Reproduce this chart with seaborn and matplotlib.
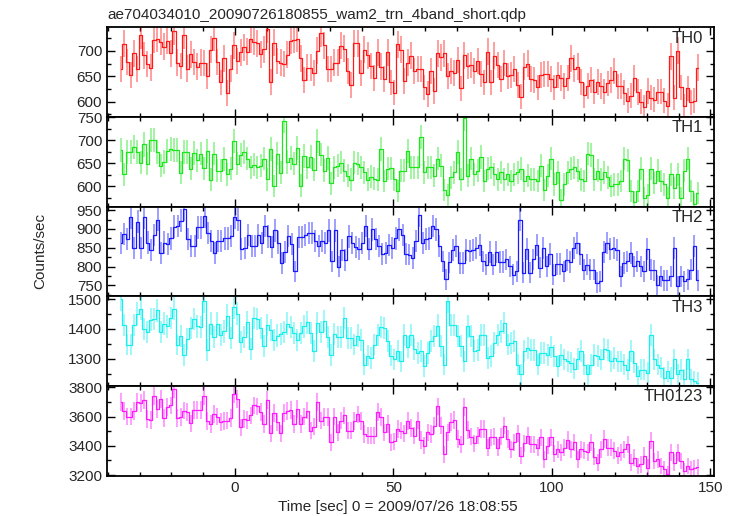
import numpy as np
import matplotlib
matplotlib.use("Agg")
import matplotlib.pyplot as plt
import seaborn as sns
from matplotlib.ticker import MultipleLocator

sns.set_style("ticks")
plt.rcParams['font.family'] = ['Liberation Sans', 'DejaVu Sans']

# light curve, 1 s bins, counts/sec
t_first, t_last = -36.5, 146.5

bands = ["TH0", "TH1", "TH2", "TH3", "TH0123"]

th0 = [664, 714, 678, 652, 695, 664, 731, 691, 674, 667,
       722, 724, 718, 708, 720, 695, 739, 677, 670, 731,
       665, 693, 678, 669, 677, 676, 651, 702, 726, 678,
       638, 685, 617, 665, 711, 680, 697, 707, 698, 723,
       718, 715, 693, 703, 742, 639, 716, 680, 677, 674,
       692, 720, 722, 724, 685, 643, 667, 667, 656, 700,
       735, 711, 664, 664, 677, 677, 710, 704, 661, 633,
       715, 715, 656, 702, 691, 670, 646, 697, 669, 644,
       697, 638, 618, 713, 702, 641, 677, 690, 661, 664,
       664, 628, 615, 660, 621, 695, 687, 695, 651, 661,
       657, 682, 626, 691, 670, 672, 661, 680, 655, 638,
       698, 638, 690, 672, 644, 676, 651, 652, 664, 633,
       610, 669, 675, 644, 643, 628, 652, 654, 654, 644,
       628, 652, 647, 631, 646, 685, 665, 669, 639, 613,
       631, 643, 620, 639, 631, 620, 636, 642, 660, 630,
       631, 618, 602, 612, 646, 619, 600, 589, 621, 608,
       604, 620, 620, 602, 592, 689, 608, 700, 628, 591,
       626, 599, 602, 667]

th1 = [679, 626, 675, 675, 686, 675, 651, 691, 649, 701,
       701, 675, 645, 653, 677, 681, 679, 679, 629, 675,
       674, 638, 673, 656, 671, 639, 677, 614, 671, 634,
       634, 659, 626, 638, 698, 649, 668, 675, 660, 641,
       647, 641, 645, 660, 615, 681, 600, 671, 629, 743,
       653, 662, 649, 684, 601, 666, 641, 664, 636, 699,
       669, 634, 662, 606, 641, 645, 651, 634, 623, 614,
       651, 649, 641, 630, 614, 621, 616, 614, 681, 611,
       638, 639, 615, 589, 634, 634, 677, 641, 641, 641,
       707, 630, 641, 641, 623, 660, 645, 592, 581, 619,
       630, 675, 615, 748, 623, 660, 626, 634, 664, 611,
       638, 641, 626, 615, 630, 615, 626, 611, 626, 630,
       638, 611, 623, 615, 615, 611, 645, 592, 623, 660,
       604, 630, 570, 604, 630, 638, 641, 634, 615, 611,
       671, 668, 615, 634, 615, 630, 619, 600, 604, 604,
       611, 660, 656, 589, 566, 589, 638, 574, 581, 638,
       607, 634, 611, 604, 574, 626, 596, 626, 574, 634,
       660, 589, 562, 585]

th2 = [862, 886, 873, 931, 849, 919, 849, 931, 864, 845,
       884, 925, 836, 864, 861, 875, 906, 908, 922, 952,
       873, 854, 855, 904, 904, 934, 889, 867, 836, 869,
       869, 875, 875, 882, 931, 925, 847, 849, 884, 854,
       854, 884, 862, 908, 880, 852, 896, 864, 810, 838,
       882, 861, 788, 878, 878, 884, 889, 889, 869, 854,
       867, 862, 896, 814, 896, 800, 843, 817, 880, 862,
       852, 847, 862, 908, 847, 899, 873, 855, 834, 836,
       858, 849, 875, 899, 884, 834, 832, 823, 867, 937,
       862, 873, 875, 908, 899, 854, 814, 766, 811, 845,
       854, 810, 810, 843, 841, 845, 849, 858, 814, 805,
       838, 805, 838, 812, 812, 819, 801, 779, 788, 924,
       784, 847, 784, 819, 858, 797, 849, 801, 834, 779,
       807, 807, 788, 817, 812, 849, 862, 834, 792, 805,
       792, 792, 757, 761, 838, 862, 847, 849, 845, 775,
       810, 814, 836, 801, 814, 801, 788, 847, 792, 790,
       750, 775, 764, 764, 775, 849, 749, 775, 761, 766,
       792, 854, 764]

th3 = [1500, 1414, 1348, 1348, 1414, 1451, 1467, 1400, 1389, 1431,
       1433, 1462, 1389, 1418, 1409, 1437, 1467, 1348, 1376, 1314,
       1367, 1403, 1433, 1409, 1407, 1492, 1331, 1418, 1373, 1418,
       1381, 1392, 1444, 1370, 1473, 1451, 1356, 1373, 1422, 1333,
       1437, 1433, 1403, 1344, 1414, 1396, 1364, 1378, 1384, 1389,
       1418, 1407, 1387, 1364, 1387, 1409, 1422, 1387, 1326, 1420,
       1389, 1426, 1373, 1314, 1384, 1373, 1373, 1437, 1370, 1370,
       1348, 1378, 1364, 1281, 1311, 1303, 1348, 1381, 1407, 1403,
       1359, 1311, 1298, 1326, 1292, 1381, 1340, 1381, 1333, 1320,
       1326, 1276, 1320, 1359, 1376, 1411, 1342, 1281, 1492, 1414,
       1414, 1376, 1342, 1292, 1409, 1376, 1326, 1331, 1381, 1381,
       1303, 1309, 1353, 1381, 1392, 1420, 1348, 1353, 1359, 1281,
       1248, 1326, 1337, 1331, 1331, 1281, 1320, 1320, 1314, 1340,
       1309, 1276, 1314, 1298, 1292, 1287, 1267, 1300, 1326, 1281,
       1248, 1281, 1314, 1309, 1298, 1333, 1331, 1292, 1303, 1292,
       1292, 1281, 1264, 1326, 1287, 1242, 1264, 1264, 1253, 1381,
       1298, 1281, 1270, 1237, 1259, 1237, 1298, 1248, 1264, 1231,
       1298, 1231, 1226, 1220]

th0123 = [3699, 3637, 3600, 3600, 3637, 3699, 3692, 3710, 3584, 3577,
          3738, 3653, 3722, 3591, 3664, 3676, 3791, 3591, 3595, 3641,
          3630, 3554, 3646, 3646, 3646, 3738, 3568, 3549, 3618, 3600,
          3561, 3568, 3572, 3591, 3756, 3722, 3526, 3584, 3577, 3607,
          3676, 3669, 3630, 3549, 3710, 3485, 3623, 3561, 3485, 3623,
          3637, 3646, 3549, 3653, 3549, 3600, 3641, 3503, 3531, 3699,
          3572, 3595, 3595, 3423, 3600, 3492, 3572, 3607, 3503, 3503,
          3568, 3614, 3568, 3480, 3469, 3469, 3469, 3630, 3595, 3492,
          3549, 3423, 3430, 3515, 3503, 3485, 3568, 3522, 3469, 3572,
          3439, 3400, 3492, 3480, 3538, 3669, 3538, 3342, 3492, 3561,
          3577, 3446, 3411, 3664, 3508, 3462, 3416, 3469, 3515, 3515,
          3388, 3457, 3462, 3388, 3462, 3538, 3446, 3377, 3423, 3485,
          3331, 3416, 3469, 3411, 3411, 3388, 3457, 3308, 3400, 3457,
          3347, 3377, 3354, 3388, 3439, 3377, 3423, 3308, 3377, 3365,
          3354, 3423, 3324, 3285, 3377, 3446, 3388, 3388, 3365, 3331,
          3354, 3377, 3411, 3285, 3319, 3262, 3273, 3331, 3250, 3434,
          3296, 3308, 3262, 3239, 3204, 3354, 3285, 3354, 3296, 3227,
          3262, 3239, 3246, 3255]

series = [th0, th1, th2, th3, th0123]

colors = ["#ff1a1a", "#1ee61e", "#1a1aff", "#1aeeee", "#ff1aff"]
ylims = [(570, 746), (555, 751), (721, 959), (1209, 1509), (3195, 3808)]
ysteps = [(50, 25), (50, 25), (50, 25), (100, 50), (200, 100)]

fig, axes = plt.subplots(5, 1, sharex=True, figsize=(7.33, 5.16), dpi=100)
fig.subplots_adjust(left=0.146, right=0.974, top=0.947, bottom=0.078, hspace=0)

for ax, name, vals, c, yl, (maj, mnr) in zip(axes, bands, series, colors, ylims, ysteps):
    v = np.array(vals, dtype=float)
    n = len(v)
    t = t_first + (np.arange(n) + 0.5) * (t_last - t_first) / n
    err = np.sqrt(v)  # poisson error for 1 s bins
    ax.vlines(t, v - err, v + err, color=c, alpha=0.45, lw=1.3)
    sns.lineplot(x=t, y=v, ax=ax, color=c, lw=0.9, drawstyle="steps-mid")
    ax.set_ylim(*yl)
    ax.yaxis.set_major_locator(MultipleLocator(maj))
    ax.yaxis.set_minor_locator(MultipleLocator(mnr))
    ax.xaxis.set_major_locator(MultipleLocator(50))
    ax.xaxis.set_minor_locator(MultipleLocator(10))
    ax.tick_params(which="both", direction="in", top=True, right=True,
                   labelsize=11, width=1.0, color="black")
    ax.tick_params(which="major", length=6)
    ax.tick_params(which="minor", length=3)
    for s in ax.spines.values():
        s.set_linewidth(1.3)
        s.set_color("black")
    ax.text(0.982, 0.88, name, transform=ax.transAxes, ha="right", va="center",
            fontsize=12)
    ax.set_ylabel("")

axes[0].set_xlim(-40.3, 151.1)
axes[0].set_title("ae704034010_20090726180855_wam2_trn_4band_short.qdp",
                  loc="left", fontsize=11, pad=6)
fig.text(0.055, 0.514, "Counts/sec", rotation=90, ha="center", va="center", fontsize=11)
fig.text(0.543, 0.018, "Time [sec] 0 = 2009/07/26 18:08:55", ha="center",
         va="center", fontsize=11)

plt.savefig("out.png", dpi=100)
plt.close()
